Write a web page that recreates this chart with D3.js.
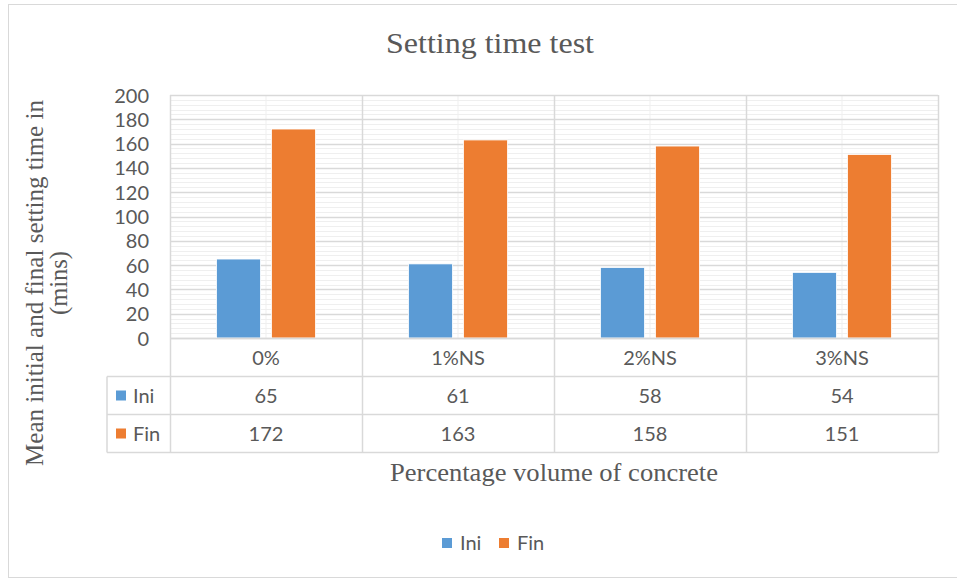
<!DOCTYPE html>
<html>
<head>
<meta charset="utf-8">
<script src="https://cdn.jsdelivr.net/npm/d3@7"></script>
<style>
  body { margin: 0; background: #fff; }
  text { fill: #595959; }
  .num { font-family: Lato, "Open Sans", sans-serif; font-size: 20px; }
  .serif { font-family: "Liberation Serif", "Times New Roman", serif; }
</style>
</head>
<body>
<div id="chart"></div>
<script>
const categories = ['0%', '1%NS', '2%NS', '3%NS'];
const seriesNames = ['Ini', 'Fin'];
const iniValues = [65, 61, 58, 54];
const finValues = [172, 163, 158, 151];
const yTicks = [0, 20, 40, 60, 80, 100, 120, 140, 160, 180, 200];
const colors = ['#5b9bd5', '#ed7d31'];

const W = 957, H = 580;
const margin = { top: 95, left: 170, right: 19 };
const plotBottom = 338;
const rowH = 38;

const svg = d3.select('#chart').append('svg')
  .attr('width', W)
  .attr('height', H);

// outer frame
svg.append('rect')
  .attr('x', 8.5).attr('y', 4.5)
  .attr('width', 960).attr('height', 573)
  .attr('fill', '#fff')
  .attr('stroke', '#d9d9d9');

const x = d3.scaleBand()
  .domain(categories)
  .range([margin.left, W - margin.right]);

const y = d3.scaleLinear()
  .domain([0, 200])
  .range([plotBottom, margin.top]);

const xs = d3.scaleBand()
  .domain(seriesNames)
  .range([0, x.bandwidth()])
  .paddingInner(0.2)
  .paddingOuter(0.845);

// minor gridlines
const minor = d3.range(0, 201, 4);
svg.append('g')
  .selectAll('line')
  .data(minor)
  .enter()
  .append('line')
  .attr('x1', margin.left).attr('x2', W - margin.right)
  .attr('y1', d => Math.round(y(d)) + 0.5)
  .attr('y2', d => Math.round(y(d)) + 0.5)
  .attr('stroke', '#efefef')
  .attr('stroke-width', 1);

// minor vertical at category centers
svg.append('g')
  .selectAll('line')
  .data(categories)
  .enter()
  .append('line')
  .attr('x1', d => x(d) + x.bandwidth() / 2)
  .attr('x2', d => x(d) + x.bandwidth() / 2)
  .attr('y1', margin.top).attr('y2', plotBottom)
  .attr('stroke', '#efefef');

// major gridlines
svg.append('g')
  .selectAll('line')
  .data(yTicks)
  .enter()
  .append('line')
  .attr('x1', margin.left).attr('x2', W - margin.right)
  .attr('y1', d => Math.round(y(d)) + 0.5)
  .attr('y2', d => Math.round(y(d)) + 0.5)
  .attr('stroke', '#d9d9d9')
  .attr('stroke-width', 1.5);

// y axis labels
svg.append('g')
  .attr('transform', 'translate(' + (margin.left - 21) + ',0)')
  .call(d3.axisLeft(y).tickValues(yTicks).tickSize(0).tickPadding(0))
  .call(g => g.select('.domain').remove())
  .selectAll('text')
  .attr('class', 'num')
  .attr('fill', '#595959')
  .attr('dy', '0.35em');

// bars
const bars = [iniValues, finValues];
bars.forEach((vals, s) => {
  svg.append('g')
    .selectAll('rect')
    .data(vals)
    .enter()
    .append('rect')
    .attr('x', (d, i) => x(categories[i]) + xs(seriesNames[s]))
    .attr('y', d => y(d))
    .attr('width', xs.bandwidth())
    .attr('height', d => plotBottom - y(d))
    .attr('fill', colors[s])
    .attr('stroke', '#fff')
    .attr('stroke-width', 0.8);
});

// data table
const tableTop = plotBottom + 0.5;
const tableLeft = 107;
const tableRight = W - margin.right;
const grid = '#d9d9d9';
const tbl = svg.append('g');

// horizontal table lines
[0, 1, 2, 3].forEach(r => {
  tbl.append('line')
    .attr('x1', r === 0 ? margin.left : tableLeft)
    .attr('x2', tableRight)
    .attr('y1', tableTop + r * rowH).attr('y2', tableTop + r * rowH)
    .attr('stroke', grid).attr('stroke-width', 1.5);
});

// vertical lines (plot + table)
const vx = categories.map(c => x(c)).concat([x.range()[1]]);
tbl.selectAll('line.v')
  .data(vx)
  .enter()
  .append('line')
  .attr('class', 'v')
  .attr('x1', d => Math.round(d) + 0.5).attr('x2', d => Math.round(d) + 0.5)
  .attr('y1', margin.top).attr('y2', tableTop + 3 * rowH)
  .attr('stroke', grid).attr('stroke-width', 1.5);

tbl.append('line')
  .attr('x1', tableLeft).attr('x2', tableLeft)
  .attr('y1', tableTop + rowH).attr('y2', tableTop + 3 * rowH)
  .attr('stroke', grid).attr('stroke-width', 1.5);

// category labels
tbl.selectAll('text.cat')
  .data(categories)
  .enter()
  .append('text')
  .attr('class', 'num')
  .attr('x', d => x(d) + x.bandwidth() / 2)
  .attr('y', tableTop + rowH / 2)
  .attr('dy', '0.35em')
  .attr('text-anchor', 'middle')
  .text(d => d);

// value rows
bars.forEach((vals, s) => {
  const cy = tableTop + rowH * (s + 1) + rowH / 2;
  tbl.append('g')
    .selectAll('text')
    .data(vals)
    .enter()
    .append('text')
    .attr('class', 'num')
    .attr('x', (d, i) => x(categories[i]) + x.bandwidth() / 2)
    .attr('y', cy)
    .attr('dy', '0.35em')
    .attr('text-anchor', 'middle')
    .text(d => d);
  tbl.append('rect')
    .attr('x', 116).attr('y', cy - 5)
    .attr('width', 10).attr('height', 10)
    .attr('fill', colors[s]);
  tbl.append('text')
    .attr('class', 'num')
    .attr('x', 133).attr('y', cy)
    .attr('dy', '0.35em')
    .text(seriesNames[s]);
});

// title
svg.append('text')
  .attr('class', 'serif')
  .attr('x', 490).attr('y', 53)
  .attr('text-anchor', 'middle')
  .attr('font-size', 30)
  .attr('textLength', 208)
  .attr('lengthAdjust', 'spacingAndGlyphs')
  .text('Setting time test');

// x axis title
svg.append('text')
  .attr('class', 'serif')
  .attr('x', 554).attr('y', 481)
  .attr('text-anchor', 'middle')
  .attr('font-size', 26)
  .attr('textLength', 328)
  .attr('lengthAdjust', 'spacingAndGlyphs')
  .text('Percentage volume of concrete');

// y axis title
const yt = svg.append('g').attr('transform', 'translate(0,283) rotate(-90)');
yt.append('text')
  .attr('class', 'serif')
  .attr('x', 0).attr('y', 43)
  .attr('text-anchor', 'middle')
  .attr('font-size', 26)
  .attr('textLength', 366)
  .attr('lengthAdjust', 'spacingAndGlyphs')
  .text('Mean initial and final setting time in');
yt.append('text')
  .attr('class', 'serif')
  .attr('x', 0).attr('y', 67)
  .attr('text-anchor', 'middle')
  .attr('font-size', 26)
  .attr('textLength', 64)
  .attr('lengthAdjust', 'spacingAndGlyphs')
  .text('(mins)');

// legend
const legend = svg.append('g');
const legX = [442, 499];
seriesNames.forEach((name, i) => {
  legend.append('rect')
    .attr('x', legX[i]).attr('y', 538)
    .attr('width', 10).attr('height', 10)
    .attr('fill', colors[i]);
  legend.append('text')
    .attr('class', 'num')
    .attr('x', legX[i] + 18).attr('y', 543)
    .attr('dy', '0.35em')
    .text(name);
});
</script>
</body>
</html>
